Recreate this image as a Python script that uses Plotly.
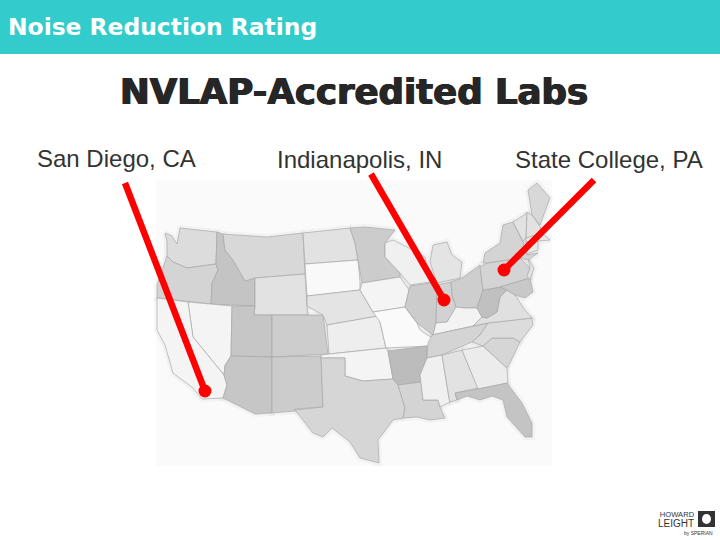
import plotly.graph_objects as go

# Slide texts
header_text = "Noise Reduction Rating"
title_text = "NVLAP-Accredited Labs"
lab_names = ["San Diego, CA", "Indianapolis, IN", "State College, PA"]

# Pointer lines, from the label down to the lab on the map
lab_start_x = [125, 371, 594]
lab_start_y = [183, 174, 180]
lab_end_x = [205, 444, 504]
lab_end_y = [391, 300, 270]

# State outlines
WA = [(165,233),(172,236),(177,244),(180,228),(217,232),(216,264),(187,268),(173,262),(167,256),(167,242)]
OR = [(167,256),(173,262),(187,268),(216,264),(218,270),(212,283),(211,304),(157,298),(157,285)]
ID = [(217,232),(223,234),(225,250),(233,260),(245,281),(255,278),(255,306),(211,304),(212,283),(218,270),(216,264)]
MT = [(223,234),(267,237),(303,233),(305,274),(255,278),(245,281),(233,260),(225,250)]
ND = [(303,233),(350,228),(355,243),(358,260),(305,264)]
SD = [(305,264),(358,260),(360,282),(360,290),(307,296)]
WY = [(255,278),(305,274),(307,306),(308,315),(254,315),(255,306)]
NV = [(188,302),(232,306),(231,356),(225,365),(224,375),(193,337)]
CA = [(157,298),(188,302),(193,337),(224,375),(227,385),(223,398),(202,399),(193,388),(173,373),(165,345),(157,330)]
UT = [(232,306),(255,306),(254,315),(272,315),(272,357),(231,356)]
CO = [(272,315),(323,315),(328,354),(272,357)]
AZ = [(231,356),(272,357),(272,413),(255,414),(223,398),(227,385),(224,375),(225,366)]
NM = [(272,357),(321,356),(323,407),(295,409),(295,411),(272,413)]
NE = [(307,296),(360,290),(373,312),(378,316),(327,325),(323,315),(307,306)]
KS = [(327,325),(378,316),(380,322),(386,348),(329,354)]
OK = [(321,355),(329,354),(386,348),(388,351),(393,379),(363,381),(345,376),(345,358),(321,358)]
TX = [(321,358),(345,358),(345,376),(363,381),(393,379),(398,385),(405,408),(403,418),(393,420),(378,440),(379,463),(360,458),(350,442),(332,428),(323,437),(313,433),(295,410),(323,407)]
MN = [(350,228),(365,227),(395,230),(385,243),(385,257),(400,273),(400,277),(362,283),(358,260),(355,243)]
IA = [(362,283),(400,277),(409,290),(405,307),(373,312),(360,290)]
MO = [(373,312),(405,307),(417,323),(420,330),(432,338),(428,346),(386,348),(380,322)]
AR = [(388,351),(427,346),(427,357),(420,375),(421,382),(398,385),(393,379)]
LA = [(398,385),(421,382),(423,400),(438,400),(440,407),(445,418),(430,420),(417,417),(403,418),(405,408)]
WI = [(385,243),(393,240),(407,247),(425,257),(430,282),(410,285),(400,273),(385,257)]
MI = [(433,245),(447,242),(452,255),(462,262),(460,278),(437,283),(430,262)]
IL = [(410,286),(431,283),(437,285),(436,323),(433,335),(428,331),(417,323),(405,307),(409,290)]
IN = [(437,285),(451,282),(452,295),(456,307),(447,322),(436,323)]
OH = [(451,282),(462,278),(480,265),(483,290),(477,308),(463,308),(456,307),(452,295)]
KY = [(433,335),(436,323),(447,322),(456,307),(463,308),(477,308),(482,317),(473,326),(432,335)]
TN = [(428,343),(432,335),(488,323),(480,335),(472,342),(442,355),(427,358)]
MS = [(427,358),(442,355),(449,398),(450,402),(440,407),(438,400),(423,400),(421,382),(420,375)]
AL = [(442,355),(462,350),(478,388),(455,393),(457,400),(450,402),(449,398)]
GA = [(462,350),(483,346),(507,368),(508,383),(478,389)]
FL = [(455,393),(478,389),(507,383),(522,403),(532,423),(532,437),(525,437),(507,417),(503,400),(492,396),(480,400),(467,396),(457,400)]
SC = [(483,346),(492,338),(513,338),(520,342),(510,363),(507,368)]
NC = [(472,342),(480,335),(488,323),(532,318),(533,325),(520,342),(513,338),(492,338),(483,346)]
VA = [(473,326),(482,317),(487,318),(497,312),(500,297),(507,290),(515,295),(525,310),(532,318),(488,323)]
WV = [(483,290),(500,287),(507,290),(500,297),(497,312),(487,318),(482,317),(477,308)]
PA = [(480,267),(487,263),(520,258),(530,268),(530,278),(500,287),(483,290)]
MD = [(500,287),(530,278),(533,292),(525,298),(515,295),(507,290)]
NJ = [(528,258),(534,268),(530,280),(527,276),(530,268)]
NY = [(483,263),(485,253),(500,243),(503,225),(513,222),(523,242),(527,255),(538,253),(528,260),(520,258),(487,263)]
VT = [(513,222),(527,213),(526,238),(523,241)]
NH = [(527,212),(532,215),(541,228),(537,235),(526,238)]
ME = [(528,190),(537,183),(550,198),(540,225),(532,215)]
MA = [(526,238),(537,235),(542,233),(550,240),(538,241),(526,242)]
CT = [(526,242),(538,241),(538,250),(527,254)]

state_outlines = [WA, OR, ID, MT, ND, SD, WY, NV, CA, UT, CO, AZ, NM, NE, KS, OK, TX, MN, IA, MO,
                  AR, LA, WI, MI, IL, IN, OH, KY, TN, MS, AL, GA, FL, SC, NC, VA, WV, PA, MD, NJ,
                  NY, VT, NH, ME, MA, CT]
state_shades = [220, 212, 196, 216, 226, 249, 226, 244, 244, 198, 205, 198, 204, 228, 238, 244, 214, 204, 244, 250,
                188, 212, 240, 228, 204, 210, 206, 243, 212, 240, 226, 236, 196, 214, 220, 224, 192, 212, 200, 226,
                212, 226, 226, 216, 232, 232]

fig = go.Figure()

# Soft shadow around the map, then the states on top
for outline in state_outlines:
    fig.add_scatter(
        x=[p[0] for p in outline] + [outline[0][0]],
        y=[p[1] for p in outline] + [outline[0][1]],
        mode="lines",
        line=dict(color="rgba(0,0,0,0.03)", width=6),
        hoverinfo="skip",
    )
for outline, shade in zip(state_outlines, state_shades):
    fig.add_scatter(
        x=[p[0] for p in outline] + [outline[0][0]],
        y=[p[1] for p in outline] + [outline[0][1]],
        mode="lines",
        fill="toself",
        fillcolor=f"rgb({shade},{shade},{shade})",
        line=dict(color="#a8a8a8", width=0.7),
        hoverinfo="skip",
    )

# Red pointers
for i in range(len(lab_names)):
    fig.add_scatter(
        x=[lab_start_x[i], lab_end_x[i]],
        y=[lab_start_y[i], lab_end_y[i]],
        mode="lines",
        line=dict(color="#ff0000", width=6.5),
        hoverinfo="skip",
    )
fig.add_scatter(
    x=lab_end_x,
    y=lab_end_y,
    mode="markers",
    marker=dict(color="#ff0000", size=13),
    hoverinfo="skip",
)

fig.update_layout(
    width=720,
    height=540,
    margin=dict(l=0, r=0, t=0, b=0),
    showlegend=False,
    paper_bgcolor="white",
    plot_bgcolor="white",
    xaxis=dict(range=[0, 720], visible=False),
    yaxis=dict(range=[540, 0], visible=False),
    shapes=[
        dict(type="rect", x0=0, x1=720, y0=0, y1=54, fillcolor="#33cccc", line_width=0, layer="below"),
        dict(type="rect", x0=156, x1=552, y0=180, y1=466, fillcolor="#fafafa", line_width=0, layer="below"),
        dict(type="rect", x0=698, x1=715, y0=511, y1=527, fillcolor="#333333", line_width=0),
        dict(type="circle", x0=702, x1=711, y0=514, y1=524, fillcolor="white", line_width=0),
    ],
    annotations=[
        dict(x=6, y=27, text=header_text, showarrow=False, xanchor="left", yanchor="middle",
             font=dict(family="DejaVu Sans", size=23.4, color="white", weight="bold")),
        dict(x=354, y=91, text=title_text, showarrow=False, xanchor="center", yanchor="middle",
             font=dict(family="DejaVu Sans", size=35.5, color="#262626", weight="bold",
                       shadow="0.7px 0 #262626, -0.7px 0 #262626")),
        dict(x=116, y=158, text=lab_names[0], showarrow=False, xanchor="center", yanchor="middle",
             font=dict(family="Liberation Sans", size=24, color="#333333")),
        dict(x=359, y=159, text=lab_names[1], showarrow=False, xanchor="center", yanchor="middle",
             font=dict(family="Liberation Sans", size=24, color="#333333")),
        dict(x=609, y=159, text=lab_names[2], showarrow=False, xanchor="center", yanchor="middle",
             font=dict(family="Liberation Sans", size=24, color="#333333")),
        dict(x=697, y=519, text='HOWARD<br><span style="font-size:10px">LEIGHT</span>', showarrow=False,
             xanchor="right", yanchor="middle", align="right",
             font=dict(family="Liberation Sans", size=7.6, color="#333333")),
        dict(x=715, y=533, text="by SPERIAN", showarrow=False, xanchor="right", yanchor="middle",
             font=dict(family="Liberation Sans", size=5, color="#333333")),
    ],
)

fig.write_html(
    "out.html",
    config={"displayModeBar": False},
    post_script="document.body.style.margin='0'",
)
